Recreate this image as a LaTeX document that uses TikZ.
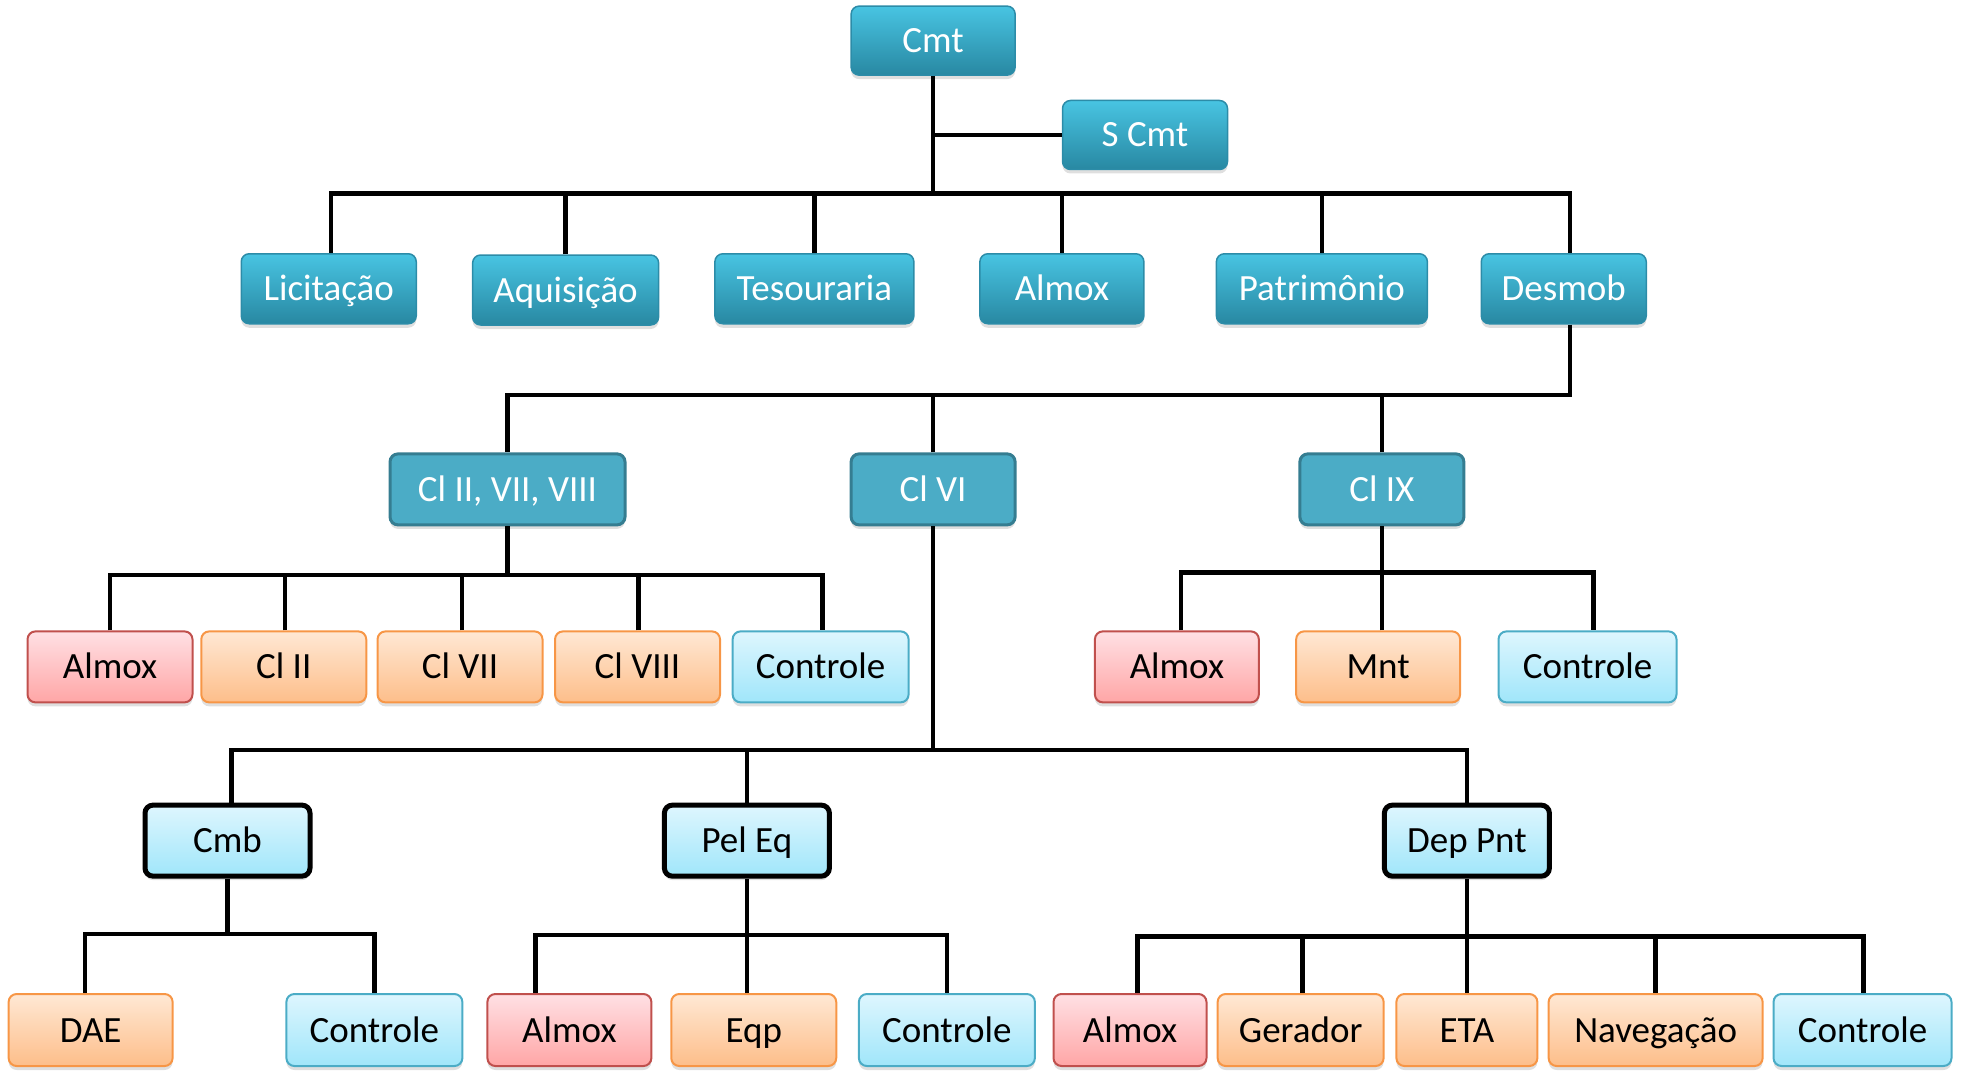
\documentclass[tikz,border=0pt]{standalone}
\usepackage{fontspec}
\setmainfont{Carlito}
\usetikzlibrary{shadows}
\definecolor{tealT}{RGB}{72,196,226}
\definecolor{tealB}{RGB}{40,136,162}
\definecolor{tealD}{RGB}{44,140,168}
\definecolor{midF}{RGB}{75,172,198}
\definecolor{midD}{RGB}{53,125,145}
\definecolor{redT}{RGB}{255,224,228}
\definecolor{redB}{RGB}{255,166,166}
\definecolor{redD}{RGB}{192,80,77}
\definecolor{orgT}{RGB}{255,232,212}
\definecolor{orgB}{RGB}{253,190,138}
\definecolor{orgD}{RGB}{247,150,70}
\definecolor{cyanT}{RGB}{222,246,254}
\definecolor{cyanB}{RGB}{160,230,250}
\definecolor{cyanD}{RGB}{75,172,198}
\begin{document}
\begin{tikzpicture}[x=1.25pt,y=-1.25pt,
  obox/.style={rounded corners=8pt, inner sep=0pt, font=\fontsize{37}{44}\selectfont,
    text height=24pt, text depth=0pt,
    drop shadow={shadow xshift=0pt, shadow yshift=-4pt, opacity=0.25}},
  tealbox/.style={obox, draw=tealD, line width=1.5pt, top color=tealT, bottom color=tealB, text=white},
  midbox/.style={obox, draw=midD, line width=3pt, fill=midF, text=white},
  redbox/.style={obox, draw=redD, line width=2pt, top color=redT, bottom color=redB},
  orgbox/.style={obox, draw=orgD, line width=2pt, top color=orgT, bottom color=orgB},
  cyanbox/.style={obox, draw=cyanD, line width=2pt, top color=cyanT, bottom color=cyanB},
  boldbox/.style={obox, draw=black, line width=5pt, top color=cyanT, bottom color=cyanB},
  link/.style={line width=4.5pt, black}
]
\useasboundingbox (0,0) rectangle (1568.8,862.4);
% level 0
\node[tealbox, minimum width=164pt, minimum height=69pt] (cmt) at (746.5,32.5) {Cmt};
\node[tealbox, minimum width=165pt, minimum height=69pt] (scmt) at (916,108) {S Cmt};
% level 1
\node[tealbox, minimum width=175pt, minimum height=70pt] (lic) at (263,231) {Licitação};
\node[tealbox, minimum width=186pt, minimum height=70pt] (aqu) at (452.5,232) {Aquisição};
\node[tealbox, minimum width=199pt, minimum height=70pt] (tes) at (651.5,231) {Tesouraria};
\node[tealbox, minimum width=164pt, minimum height=70pt] (alm) at (849.5,231) {Almox};
\node[tealbox, minimum width=211pt, minimum height=70pt] (pat) at (1057.5,231) {Patrimônio};
\node[tealbox, minimum width=165pt, minimum height=70pt] (des) at (1251,231) {Desmob};
% level 2
\node[midbox, minimum width=235pt, minimum height=71pt] (c2) at (406,391.5) {Cl II, VII, VIII};
\node[midbox, minimum width=164pt, minimum height=71pt] (c6) at (746.5,391.5) {Cl VI};
\node[midbox, minimum width=164pt, minimum height=71pt] (c9) at (1105.5,391.5) {Cl IX};
% level 3a
\node[redbox, minimum width=165pt, minimum height=71pt] (a1) at (88,533.5) {Almox};
\node[orgbox, minimum width=165pt, minimum height=71pt] (a2) at (227,533.5) {Cl II};
\node[orgbox, minimum width=165pt, minimum height=71pt] (a3) at (368,533.5) {Cl VII};
\node[orgbox, minimum width=165pt, minimum height=71pt] (a4) at (510,533.5) {Cl VIII};
\node[cyanbox, minimum width=176pt, minimum height=71pt] (a5) at (656.5,533.5) {Controle};
\node[redbox, minimum width=164pt, minimum height=71pt] (b1) at (941.5,533.5) {Almox};
\node[orgbox, minimum width=164pt, minimum height=71pt] (b2) at (1102.5,533.5) {Mnt};
\node[cyanbox, minimum width=178pt, minimum height=71pt] (b3) at (1270,533.5) {Controle};
% level 3b
\node[boldbox, minimum width=165pt, minimum height=71pt] (cmb) at (182,672.5) {Cmb};
\node[boldbox, minimum width=165pt, minimum height=71pt] (pel) at (597.5,672.5) {Pel Eq};
\node[boldbox, minimum width=165pt, minimum height=71pt] (dep) at (1173.5,672.5) {Dep Pnt};
% level 4
\node[orgbox, minimum width=164pt, minimum height=72pt] (d1) at (72.5,824) {DAE};
\node[cyanbox, minimum width=176pt, minimum height=72pt] (d2) at (299.5,824) {Controle};
\node[redbox, minimum width=164pt, minimum height=72pt] (e1) at (455.5,824) {Almox};
\node[orgbox, minimum width=165pt, minimum height=72pt] (e2) at (603,824) {Eqp};
\node[cyanbox, minimum width=176pt, minimum height=72pt] (e3) at (757.5,824) {Controle};
\node[redbox, minimum width=153pt, minimum height=72pt] (f1) at (904,824) {Almox};
\node[orgbox, minimum width=166pt, minimum height=72pt] (f2) at (1040.5,824) {Gerador};
\node[orgbox, minimum width=141pt, minimum height=72pt] (f3) at (1173.5,824) {ETA};
\node[orgbox, minimum width=214pt, minimum height=72pt] (f4) at (1324.5,824) {Navegação};
\node[cyanbox, minimum width=178pt, minimum height=72pt] (f5) at (1490,824) {Controle};
% junction coordinates
\coordinate (j0) at (cmt.south |- 0,155);
\coordinate (j1) at (c6.north |- 0,316);
\coordinate (j2) at (c2.south |- 0,460);
\coordinate (j3) at (c9.south |- 0,458);
\coordinate (j4) at (c6.south |- 0,600);
\coordinate (j5) at (cmb.south |- 0,747);
\coordinate (j6) at (pel.south |- 0,748);
\coordinate (j7) at (dep.south |- 0,749);
% connectors level 0-1
\draw[link] (cmt.south) -- (j0);
\draw[link] (scmt.west) -- (scmt.west -| cmt.south);
\draw[link] ([xshift=2pt]lic.north) -- ([xshift=2pt]lic.north |- j0) -- ([xshift=6pt]des.north |- j0) -- ([xshift=6pt]des.north);
\foreach \n in {aqu,tes,alm,pat} \draw[link] (\n.north) -- (\n.north |- j0);
% Desmob to level 2
\draw[link] ([xshift=6pt]des.south) -- ([xshift=6pt]des.south |- j1) -- (c2.north |- j1) -- (c2.north);
\draw[link] (c6.north) -- (j1);
\draw[link] (c9.north) -- (c9.north |- j1);
% Cl II VII VIII children
\draw[link] (c2.south) -- (j2);
\draw[link] (a1.north) -- (a1.north |- j2) -- ([xshift=2pt]a5.north |- j2) -- ([xshift=2pt]a5.north);
\draw[link] ([xshift=1pt]a2.north) -- ([xshift=1pt]a2.north |- j2);
\draw[link] ([xshift=2pt]a3.north) -- ([xshift=2pt]a3.north |- j2);
\draw[link] ([xshift=1pt]a4.north) -- ([xshift=1pt]a4.north |- j2);
% Cl IX children
\draw[link] (c9.south) -- (j3);
\draw[link] ([xshift=4pt]b1.north) -- ([xshift=4pt]b1.north |- j3) -- ([xshift=6pt]b3.north |- j3) -- ([xshift=6pt]b3.north);
\draw[link] ([xshift=3.7pt]b2.north) -- ([xshift=3.7pt]b2.north |- j3);
% Cl VI children
\draw[link] (c6.south) -- (j4);
\draw[link] ([xshift=4pt]cmb.north) -- ([xshift=4pt]cmb.north |- j4) -- (dep.north |- j4) -- (dep.north);
\draw[link] (pel.north) -- (pel.north |- j4);
% Cmb children
\draw[link] (cmb.south) -- (j5);
\draw[link] ([xshift=-5.5pt]d1.north) -- ([xshift=-5.5pt]d1.north |- j5) -- (d2.north |- j5) -- (d2.north);
% Pel Eq children
\draw[link] (pel.south) -- (j6);
\draw[link] ([xshift=-34pt]e1.north) -- ([xshift=-34pt]e1.north |- j6) -- (e3.north |- j6) -- (e3.north);
\draw[link] (e2.north -| pel.south) -- (j6);
% Dep Pnt children
\draw[link] (dep.south) -- (j7);
\draw[link] ([xshift=7.5pt]f1.north) -- ([xshift=7.5pt]f1.north |- j7) -- ([xshift=1pt]f5.north |- j7) -- ([xshift=1pt]f5.north);
\draw[link] ([xshift=2pt]f2.north) -- ([xshift=2pt]f2.north |- j7);
\draw[link] (f3.north) -- (j7);
\draw[link] (f4.north) -- (f4.north |- j7);
\end{tikzpicture}
\end{document}
